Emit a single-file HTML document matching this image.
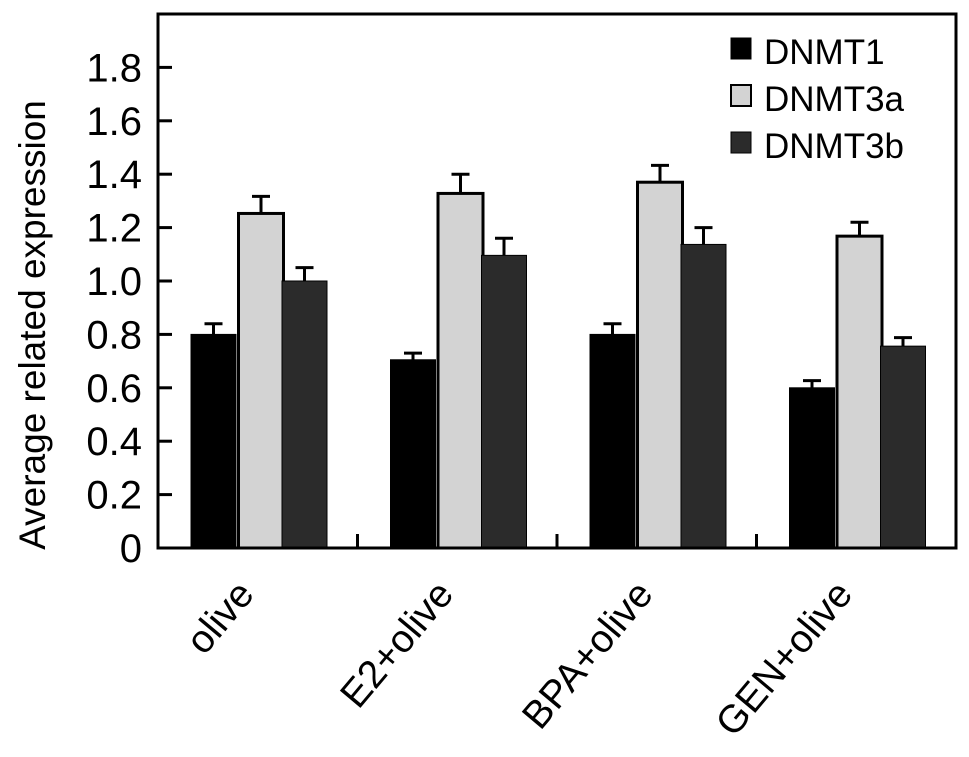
<!DOCTYPE html>
<html><head><meta charset="utf-8"><style>
html,body{margin:0;padding:0;background:#fff;}
svg{display:block;font-family:"Liberation Sans",Arial,sans-serif;}
</style></head><body>
<svg id="chart" width="969" height="757"></svg>
<script>
const categories = ["olive","E2+olive","BPA+olive","GEN+olive"];
const seriesNames = ["DNMT1","DNMT3a","DNMT3b"];
const dnmt1 = [0.80,0.705,0.80,0.60];
const dnmt3a = [1.253,1.328,1.37,1.168];
const dnmt3b = [1.0,1.096,1.137,0.756];
const dnmt1Err = [0.84,0.73,0.84,0.627];
const dnmt3aErr = [1.317,1.40,1.433,1.22];
const dnmt3bErr = [1.05,1.16,1.20,0.788];
const yTicks = [0,0.2,0.4,0.6,0.8,1.0,1.2,1.4,1.6,1.8];
const yTickLabels = ["0","0.2","0.4","0.6","0.8","1.0","1.2","1.4","1.6","1.8"];

const NS="http://www.w3.org/2000/svg";
const svg=document.getElementById('chart');
const L=158,R=956,T=14,B=548,YMAX=2.0;
const y=v=>B-(v/YMAX)*(B-T);
const catW=(R-L)/categories.length;
const xCat=i=>L+catW*i;
function mk(tag,attrs){const e=document.createElementNS(NS,tag);for(const k in attrs)e.setAttribute(k,attrs[k]);svg.appendChild(e);return e;}

const fills=["#000","#d3d3d3","#2b2b2b"];
const vals=[dnmt1,dnmt3a,dnmt3b];
const errs=[dnmt1Err,dnmt3aErr,dnmt3bErr];
const offs=[33,80.5,124];
const bw=45;
categories.forEach((c,i)=>{
  for(let s=0;s<3;s++){
    const x0=xCat(i)+offs[s];
    const top=y(vals[s][i]);
    const bar=mk('rect',{x:x0,y:top,width:bw,height:B-top,fill:fills[s],stroke:'#000','stroke-width':s==1?3:1});
    
    
    const cx=x0+bw/2, et=y(errs[s][i]);
    const eb=mk('path',{d:`M${cx},${top} V${et} M${cx-9},${et} H${cx+9}`,stroke:'#000','stroke-width':3,fill:'none'});
    
    
  }
  const lbl=mk('text',{x:0,y:0,'font-size':39,'text-anchor':'end',transform:`translate(${xCat(i)+catW/2-2},${595}) rotate(-50)`});
  lbl.textContent=c;
  
  
  if(i>0){const t=mk('line',{x1:xCat(i),x2:xCat(i),y1:B,y2:B-14,stroke:'#000','stroke-width':3});
    
    }
});
yTicks.forEach((v,k)=>{
  if(v>0){const t=mk('line',{x1:L,x2:L+14,y1:y(v),y2:y(v),stroke:'#000','stroke-width':3});
    
    }
  const tl=mk('text',{x:142,y:y(v)+14,'font-size':40,'text-anchor':'end'});
  tl.textContent=yTickLabels[k];
  
  
});
const frame=mk('rect',{x:L,y:T,width:R-L,height:B-T,fill:'none',stroke:'#000','stroke-width':3});


const yt=mk('text',{x:0,y:0,'font-size':37,'text-anchor':'middle',transform:'translate(45,325) rotate(-90)'});
yt.textContent='Average related expression';


seriesNames.forEach((n,s)=>{
  const yy=38+s*47;
  const sw=mk('rect',{x:731,y:yy,width:20,height:21,fill:fills[s],stroke:'#000','stroke-width':s==1?2:1});
  
  
  const lt=mk('text',{x:764,y:yy+26,'font-size':35});
  lt.textContent=n;
  
  
});
</script>
</body></html>
